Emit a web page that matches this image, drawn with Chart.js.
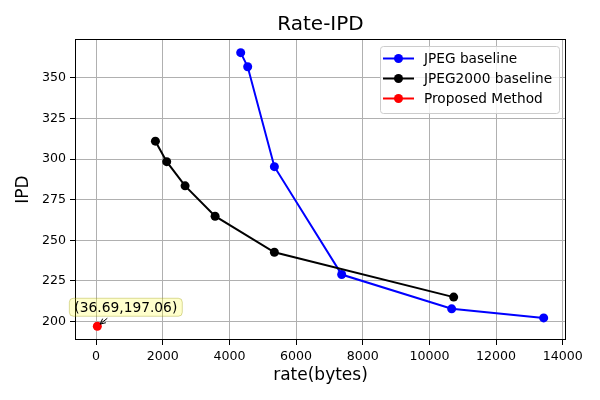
<!DOCTYPE html>
<html>
<head>
<meta charset="utf-8">
<script src="https://cdn.jsdelivr.net/npm/chart.js@4.4.0/dist/chart.umd.min.js"></script>
<style>
  html, body { margin: 0; padding: 0; background: #fff; }
</style>
</head>
<body>
<canvas id="myChart" width="600" height="400"></canvas>
<script>
const jpegRate = [4338, 4548, 5349, 7368, 10668, 13428];
const jpegIpd = [365.5, 356.8, 295.3, 228.9, 207.8, 202.2];
const j2kRate = [1779, 2118, 2670, 3570, 5349, 10728];
const j2kIpd = [311.0, 298.4, 283.5, 264.8, 242.6, 215.0];
const propRate = [36.69];
const propIpd = [197.06];
const xTicks = [0, 2000, 4000, 6000, 8000, 10000, 12000, 14000];
const yTicks = [200, 225, 250, 275, 300, 325, 350];
const seriesNames = ['JPEG baseline', 'JPEG2000 baseline', 'Proposed Method'];
const seriesColors = ['#0000ff', '#000000', '#ff0000'];

const FONT = "'DejaVu Sans', sans-serif";

function toPoints(xs, ys) {
  return xs.map((x, i) => ({ x: x, y: ys[i] }));
}

function makeSet(i, xs, ys, order) {
  return {
    label: seriesNames[i],
    data: toPoints(xs, ys),
    borderColor: seriesColors[i],
    backgroundColor: seriesColors[i],
    pointBackgroundColor: seriesColors[i],
    pointBorderColor: seriesColors[i],
    pointRadius: 4.5,
    pointBorderWidth: 0,
    borderWidth: 2,
    showLine: true,
    tension: 0,
    order: order
  };
}

// draws frame, title, axis labels, legend and the annotation
const extras = {
  id: 'extras',
  afterDraw(chart) {
    const ctx = chart.ctx;
    const a = chart.chartArea;
    const xs = chart.scales.x, ys = chart.scales.y;
    ctx.save();

    // frame
    ctx.strokeStyle = '#000';
    ctx.lineWidth = 1;
    ctx.strokeRect(Math.round(a.left) + 0.5, Math.round(a.top) + 0.5,
      Math.round(a.right - a.left) - 1, Math.round(a.bottom - a.top) - 1);

    const cx = (a.left + a.right) / 2;
    const cy = (a.top + a.bottom) / 2;

    // title
    ctx.fillStyle = '#000';
    ctx.textAlign = 'center';
    ctx.textBaseline = 'alphabetic';
    ctx.font = '20px ' + FONT;
    ctx.fillText('Rate-IPD', cx, 30);

    // axis labels
    ctx.font = '17px ' + FONT;
    ctx.fillText('rate(bytes)', cx, 380);
    ctx.save();
    ctx.translate(28, cy);
    ctx.rotate(-Math.PI / 2);
    ctx.fillText('IPD', 0, 0);
    ctx.restore();

    // legend
    const lx = 380.5, ly = 46.5, lw = 179, lh = 67;
    ctx.beginPath();
    ctx.roundRect(lx, ly, lw, lh, 3);
    ctx.fillStyle = 'rgba(255,255,255,0.8)';
    ctx.fill();
    ctx.strokeStyle = '#cccccc';
    ctx.stroke();
    ctx.font = '13.7px ' + FONT;
    ctx.textAlign = 'left';
    ctx.textBaseline = 'middle';
    seriesNames.forEach((name, i) => {
      const yy = 58.5 + 20 * i;
      ctx.strokeStyle = seriesColors[i];
      ctx.lineWidth = 2;
      ctx.beginPath();
      ctx.moveTo(383, yy);
      ctx.lineTo(414, yy);
      ctx.stroke();
      ctx.fillStyle = seriesColors[i];
      ctx.beginPath();
      ctx.arc(398.5, yy, 4.5, 0, Math.PI * 2);
      ctx.fill();
      ctx.fillStyle = '#000';
      ctx.fillText(name, 424, yy + 1);
    });

    // annotation of the proposed point
    const px = xs.getPixelForValue(propRate[0]);
    const py = ys.getPixelForValue(propIpd[0]);
    const label = '(' + propRate[0].toFixed(2) + ',' + propIpd[0].toFixed(2) + ')';
    ctx.font = '13.8px ' + FONT;
    const tw = ctx.measureText(label).width;
    const tx = px + 28.5, ty = py - 19;
    const bx = tx - tw / 2 - 5, by = ty - 9, bw = tw + 10, bh = 18;
    ctx.beginPath();
    ctx.roundRect(bx, by, bw, bh, 4);
    ctx.fillStyle = 'rgba(255,255,0,0.2)';
    ctx.fill();
    ctx.strokeStyle = 'rgba(150,150,0,0.35)';
    ctx.lineWidth = 1;
    ctx.stroke();
    ctx.fillStyle = '#000';
    ctx.textAlign = 'center';
    ctx.fillText(label, tx, ty + 1);

    // arrow
    const sx = px + 10, sy = by + bh + 2;
    const ang = Math.atan2(py - sy, px - sx);
    const ex = px - Math.cos(ang) * 3.5, ey = py - Math.sin(ang) * 3.5;
    ctx.strokeStyle = '#000';
    ctx.lineWidth = 1;
    ctx.beginPath();
    ctx.moveTo(sx, sy);
    ctx.lineTo(ex, ey);
    ctx.moveTo(ex + Math.cos(ang + 0.45) * -6, ey + Math.sin(ang + 0.45) * -6);
    ctx.lineTo(ex, ey);
    ctx.lineTo(ex + Math.cos(ang - 0.45) * -6, ey + Math.sin(ang - 0.45) * -6);
    ctx.stroke();

    ctx.restore();
  }
};

const axisCommon = {
  type: 'linear',
  grid: { color: '#b0b0b0', lineWidth: 1, tickLength: 5, tickColor: '#000' },
  border: { display: false },
  ticks: { color: '#000', font: { family: FONT, size: 12.6 }, padding: 4, autoSkip: false, maxRotation: 0,
    callback: v => String(v) }
};

new Chart('myChart', {
  type: 'scatter',
  data: {
    datasets: [
      makeSet(0, jpegRate, jpegIpd, 3),
      makeSet(1, j2kRate, j2kIpd, 2),
      makeSet(2, propRate, propIpd, 1)
    ]
  },
  options: {
    responsive: false,
    animation: false,
    events: [],
    devicePixelRatio: 1,
    layout: { padding: { top: 39, right: 34, left: 0, bottom: 0 } },
    plugins: { legend: { display: false }, title: { display: false }, tooltip: { enabled: false } },
    scales: {
      x: Object.assign({}, axisCommon, {
        min: -633, max: 14098,
        afterBuildTicks: s => { s.ticks = xTicks.map(v => ({ value: v })); },
        afterFit: s => { s.height = 60; }
      }),
      y: Object.assign({}, axisCommon, {
        min: 188.6, max: 373.9,
        afterBuildTicks: s => { s.ticks = yTicks.map(v => ({ value: v })); },
        afterFit: s => { s.width = 75; }
      })
    }
  },
  plugins: [extras]
});
</script>
</body>
</html>
